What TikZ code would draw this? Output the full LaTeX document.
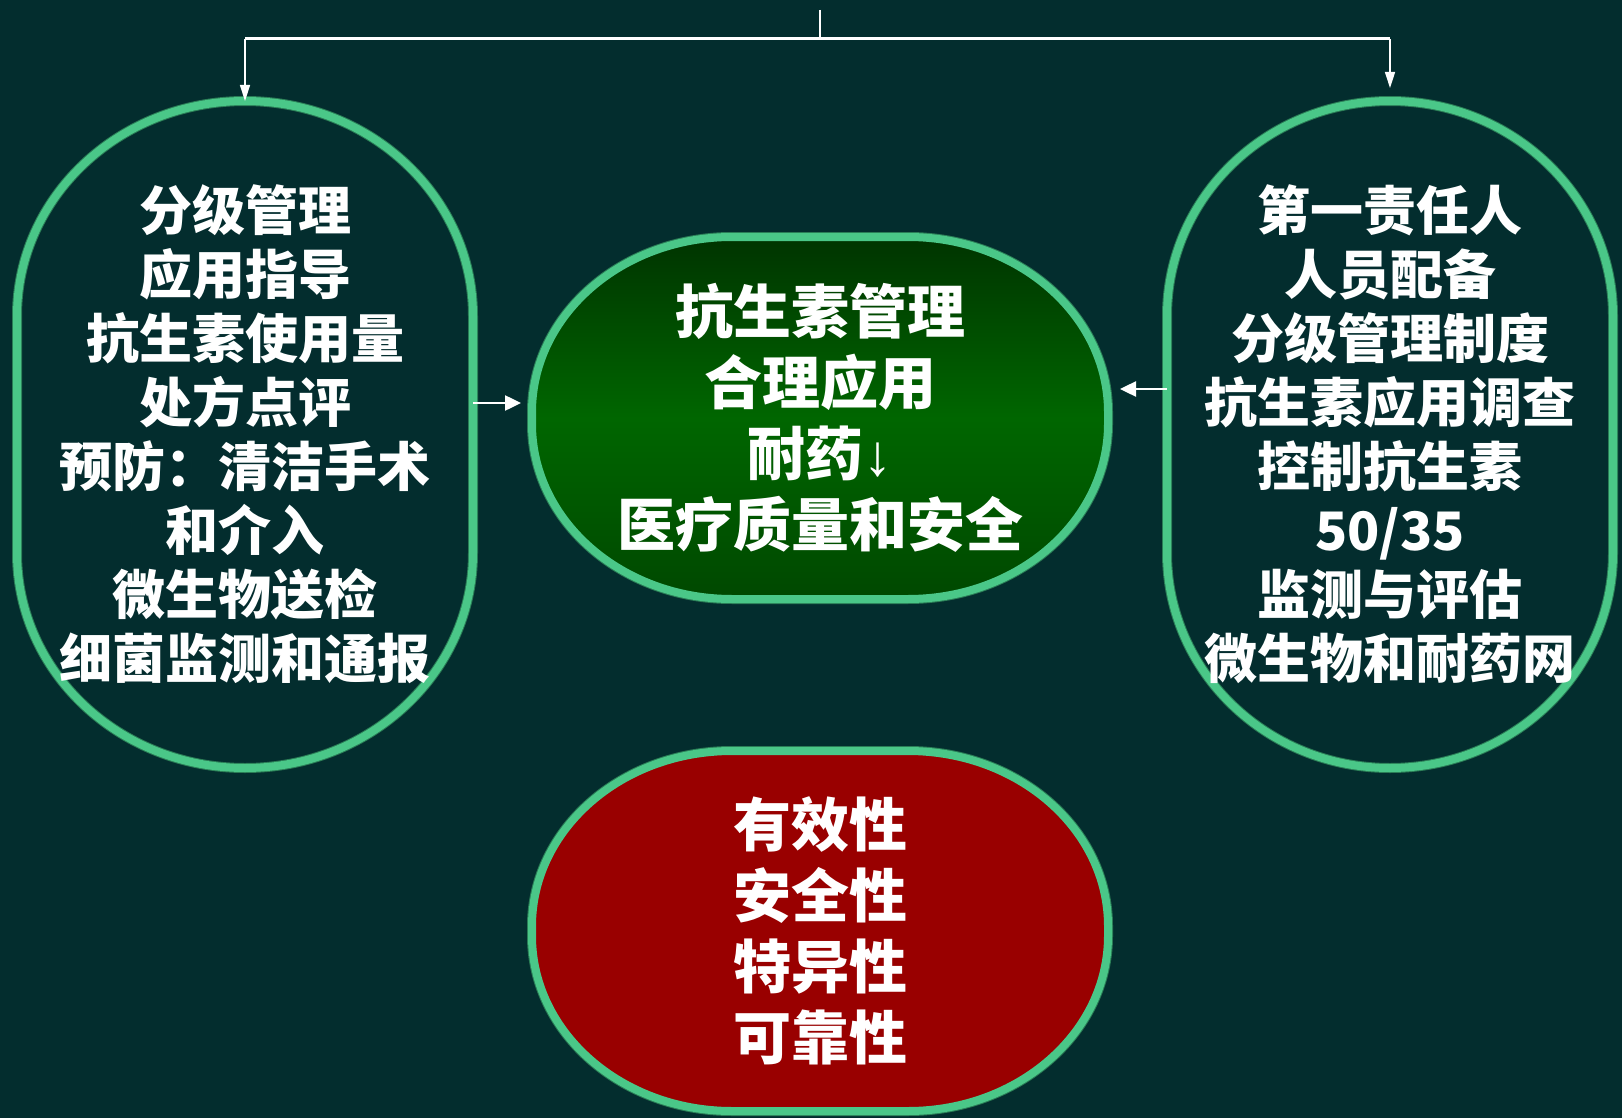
\documentclass[tikz,border=0pt]{standalone}
\usepackage{fontspec}
\newfontfamily\cjk{Noto Sans CJK SC}
\newfontfamily\lat{Liberation Sans}
\usetikzlibrary{arrows.meta,backgrounds}
\definecolor{bgc}{RGB}{3,45,46}
\definecolor{rim}{RGB}{74,199,136}
\definecolor{rimdark}{RGB}{42,125,86}
\definecolor{gtop}{RGB}{0,52,0}
\definecolor{gmid}{RGB}{0,102,0}
\definecolor{gbot}{RGB}{0,72,0}
\definecolor{redfill}{RGB}{153,0,0}
\newcommand\blob[4]{%
 \path[#4] ([xshift=#2]#1.north west) -- ([xshift=-#2]#1.north east)
   arc[start angle=90,end angle=0,x radius=#2,y radius=#3]
   -- ([yshift=#3]#1.south east)
   arc[start angle=0,end angle=-90,x radius=#2,y radius=#3]
   -- ([xshift=#2]#1.south west)
   arc[start angle=270,end angle=180,x radius=#2,y radius=#3]
   -- ([yshift=-#3]#1.north west)
   arc[start angle=180,end angle=90,x radius=#2,y radius=#3]
   -- cycle;}
\tikzset{
  holder/.style={rectangle, inner sep=0pt, outer sep=0pt, align=center, text=white},
  sidetext/.style={font=\cjk\bfseries\fontsize{53}{64}\selectfont},
  midtext/.style={font=\cjk\bfseries\fontsize{58}{71}\selectfont},
  wire/.style={draw=white, line width=1.5pt},
  bus/.style={draw=white, line width=3pt},
  droparrow/.style={draw=white, line width=1.5pt, -{Triangle[length=16pt,width=10pt]}},
  sidearrow/.style={draw=white, line width=2.5pt, -{Triangle[length=16pt,width=15pt]}},
  rimline/.style={draw=rim, line width=8pt},
}
\begin{document}
\begin{tikzpicture}[x=1pt,y=-1pt]
\useasboundingbox (0,0) rectangle (1622,1118);
% main nodes
\node[holder, sidetext, minimum width=456pt, minimum height=667pt] (L) at (245,434.5)
  {分级管理\\应用指导\\抗生素使用量\\处方点评\\预防：清洁手术\\和介入\\微生物送检\\细菌监测和通报};
\node[holder, sidetext, minimum width=446pt, minimum height=667pt] (R) at (1390,434.5)
  {第一责任人\\人员配备\\分级管理制度\\抗生素应用调查\\控制抗生素\\50/35\\监测与评估\\微生物和耐药网};
\node[holder, midtext, minimum width=576pt, minimum height=362pt] (C) at (820,418)
  {抗生素管理\\合理应用\\耐药{\lat ↓}\\医疗质量和安全};
\node[holder, midtext, minimum width=576pt, minimum height=360pt] (B) at (820,931)
  {有效性\\安全性\\特异性\\可靠性};
% connectors
\coordinate (T) at (820,10);
\coordinate (H) at (820,39);
\draw[wire] (T) -- (H);
\draw[bus] (H -| L.north) -- (H -| R.north);
\draw[droparrow] (H -| L.north) -- (L.north);
\draw[droparrow, shorten >=13pt] (H -| R.north) -- (R.north);
\draw[sidearrow, shorten >=11pt] ([yshift=31.5pt]L.east) -- ([yshift=31.5pt]L.east -| C.west);
\draw[sidearrow, shorten >=12pt] ([yshift=45.5pt]R.west) -- ([yshift=45.5pt]R.west -| C.east);
% shapes behind
\begin{scope}[on background layer]
\fill[bgc] (0,0) rectangle (1622,1118);
\blob{L}{228pt}{215pt}{draw=rimdark, line width=10pt, shift={(1.5pt,-1.5pt)}}
\blob{L}{228pt}{215pt}{rimline}
\blob{R}{223pt}{215pt}{draw=rimdark, line width=10pt, shift={(1.5pt,-1.5pt)}}
\blob{R}{223pt}{215pt}{rimline}
\blob{C}{200pt}{175pt}{draw=rimdark, line width=10pt, shift={(1.5pt,-1.5pt)}}
\blob{C}{200pt}{175pt}{rimline, top color=gtop, bottom color=gbot, middle color=gmid}
\blob{B}{200pt}{175pt}{draw=rimdark, line width=10pt, shift={(1.5pt,-1.5pt)}}
\blob{B}{200pt}{175pt}{rimline, fill=redfill}
\end{scope}
\end{tikzpicture}
\end{document}
